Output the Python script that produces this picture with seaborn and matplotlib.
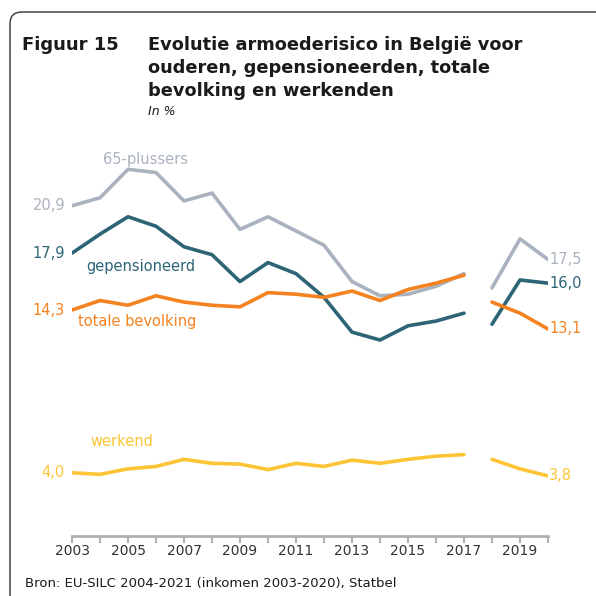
import numpy as np
import pandas as pd
import matplotlib
matplotlib.use('agg')
import seaborn as sns
import matplotlib.pyplot as plt
from matplotlib.patches import FancyBboxPatch

years = list(range(2003, 2021))
plus65 = [20.9, 21.4, 23.2, 23.0, 21.2, 21.7, 19.4, 20.2, 19.3, 18.4, 16.1, 15.2,
          15.3, 15.8, 16.6, 15.7, 18.8, 17.5]
gepensioneerd = [17.9, 19.1, 20.2, 19.6, 18.3, 17.8, 16.1, 17.3, 16.6, 15.1, 12.9, 12.4,
                 13.3, 13.6, 14.1, 13.4, 16.2, 16.0]
totaal = [14.3, 14.9, 14.6, 15.2, 14.8, 14.6, 14.5, 15.4, 15.3, 15.1, 15.5, 14.9,
          15.6, 16.0, 16.5, 14.8, 14.1, 13.1]
werkend = [4.0, 3.9, 4.25, 4.4, 4.85, 4.6, 4.55, 4.2, 4.6, 4.4, 4.8, 4.6,
           4.85, 5.05, 5.15, 4.85, 4.25, 3.8]

series = ["65-plussers", "gepensioneerd", "totale bevolking", "werkend"]
colors = ["#a9b2be", "#2e6576", "#f58220", "#fdc536"]
values = [plus65, gepensioneerd, totaal, werkend]

title_lines = ["Evolutie armoederisico in België voor",
               "ouderen, gepensioneerden, totale",
               "bevolking en werkenden"]

# break in the series between 2017 and 2018
rows = []
for name, vals in zip(series, values):
    for y, v in zip(years, vals):
        rows.append({"jaar": y, "waarde": v, "reeks": name,
                     "deel": 0 if y <= 2017 else 1})
df = pd.DataFrame(rows)

sns.set_style("white")
plt.rcParams['font.family'] = ['DejaVu Sans']

fig = plt.figure(figsize=(5.96, 5.96), dpi=100)

# rounded frame
frame = FancyBboxPatch((10 / 596, -0.05), 1.2, 1 - 12 / 596 + 0.05,
                       boxstyle="round,pad=0,rounding_size=0.02",
                       transform=fig.transFigure, fill=False,
                       edgecolor="#333333", linewidth=1.0)
fig.patches.append(frame)

ax = fig.add_axes([72 / 596, 1 - 536 / 596, 476 / 596, (536 - 133) / 596])
sns.lineplot(data=df, x="jaar", y="waarde", hue="reeks", units="deel",
             estimator=None, palette=dict(zip(series, colors)),
             hue_order=series, linewidth=2.6, ax=ax, legend=False)
ax.set_xlim(2003, 2020)
ax.set_ylim(0, 25.5)
ax.set(xlabel="", ylabel="")
ax.set_yticks([])
ax.set_xticks(years)
ax.set_xticklabels([str(y) if y % 2 == 1 else "" for y in years],
                   fontsize=10, color="#333333")
ax.tick_params(axis="x", bottom=True, direction="out", length=5, width=1.5,
               color="#b0b0b0", pad=1)
for s in ["top", "right", "left"]:
    ax.spines[s].set_visible(False)
ax.spines["bottom"].set_color("#b0b0b0")
ax.spines["bottom"].set_linewidth(2)

# value labels at both ends
for name, vals, c in zip(series, values, colors):
    ax.annotate(f"{vals[0]:.1f}".replace(".", ","), (2003, vals[0]),
                xytext=(-5, 0), textcoords="offset points", ha="right",
                va="center", color=c, fontsize=10.5)
    ax.annotate(f"{vals[-1]:.1f}".replace(".", ","), (2020, vals[-1]),
                xytext=(1, 0), textcoords="offset points", ha="left",
                va="center", color=c, fontsize=10.5)

# series names
name_pos = {"65-plussers": (2004.1, 23.85), "gepensioneerd": (2003.5, 17.05),
            "totale bevolking": (2003.2, 13.6), "werkend": (2003.65, 5.95)}
for name, c in zip(series, colors):
    x, y = name_pos[name]
    ax.text(x, y, name, color=c, fontsize=10.5, ha="left", va="center")

fig.text(22 / 596, 1 - 45 / 596, "Figuur 15", fontsize=13, fontweight="bold",
         color="#1a1a1a", va="center")
for i, line in enumerate(title_lines):
    fig.text(148 / 596, 1 - (45 + 23 * i) / 596, line, fontsize=12.8,
             fontweight="bold", color="#1a1a1a", va="center")
fig.text(148 / 596, 1 - 112 / 596, "In %", fontsize=9, style="italic",
         color="#1a1a1a", va="center")
fig.text(25 / 596, 1 - 583 / 596,
         "Bron: EU-SILC 2004-2021 (inkomen 2003-2020), Statbel",
         fontsize=9.5, color="#1a1a1a", va="center")

fig.savefig("out.png", dpi=100)
